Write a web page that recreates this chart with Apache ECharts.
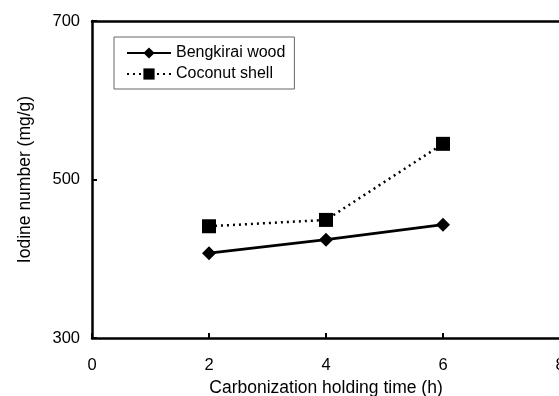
<!DOCTYPE html>
<html>
<head>
<meta charset="utf-8">
<script src="https://cdn.jsdelivr.net/npm/echarts@6/dist/echarts.min.js"></script>
<style>
  html, body { margin: 0; padding: 0; background: #fff; }
  #chart { width: 559px; height: 396px; }
</style>
</head>
<body>
<div id="chart"></div>
<script>
// Holding time (h) and iodine number (mg/g) for the two activated carbons
const holdingTime = [2, 4, 6];
const bengkiraiWood = [407, 424, 443];
const coconutShell = [441, 449, 545];
const xTicks = [0, 2, 4, 6, 8];
const yTicks = [300, 500, 700];

const FONT = 'Liberation Sans, Arial, sans-serif';
const diamond = 'path://M0,-1L1,0L0,1L-1,0Z';

const chart = echarts.init(document.getElementById('chart'), null, { renderer: 'canvas' });

chart.setOption({
  animation: false,
  backgroundColor: '#fff',
  textStyle: { fontFamily: FONT },
  grid: { left: 92, top: 21, width: 468, height: 317, containLabel: false, outerBoundsMode: 'none' },
  legend: {
    left: 114, top: 37,
    orient: 'vertical',
    itemGap: 5,
    itemWidth: 44, itemHeight: 14,
    padding: [8, 9, 7, 12],
    borderColor: '#666', borderWidth: 1,
    textStyle: { fontFamily: FONT, fontSize: 16, color: '#000' },
    data: ['Bengkirai wood', 'Coconut shell']
  },
  xAxis: [{
    type: 'value', min: xTicks[0], max: xTicks[xTicks.length - 1], interval: 2,
    name: 'Carbonization holding time (h)', nameLocation: 'middle', nameGap: 41,
    nameTextStyle: { fontFamily: FONT, fontSize: 17.5, color: '#000' },
    axisLine: { lineStyle: { color: '#000', width: 2.5 } },
    axisTick: { inside: true, length: 5, lineStyle: { color: '#000', width: 2 } },
    axisLabel: { fontFamily: FONT, fontSize: 16.5, color: '#000', margin: 19 },
    splitLine: { show: false }
  }, {
    type: 'value', position: 'top', min: 0, max: 8,
    axisLine: { show: true, lineStyle: { color: '#000', width: 2.5 } },
    axisTick: { show: false }, axisLabel: { show: false }, splitLine: { show: false }
  }],
  yAxis: [{
    type: 'value', min: yTicks[0], max: yTicks[yTicks.length - 1], interval: 200,
    name: 'Iodine number (mg/g)', nameLocation: 'middle', nameGap: 58,
    nameTextStyle: { fontFamily: FONT, fontSize: 17.5, color: '#000' },
    axisLine: { show: true, lineStyle: { color: '#000', width: 2.5 } },
    axisTick: { show: true, inside: true, length: 5, lineStyle: { color: '#000', width: 2 } },
    axisLabel: { fontFamily: FONT, fontSize: 16.5, color: '#000', margin: 12 },
    splitLine: { show: false }
  }, {
    type: 'value', position: 'right', min: 300, max: 700,
    axisLine: { show: true, onZero: false, lineStyle: { color: '#ccc', width: 1 } },
    axisTick: { show: false }, axisLabel: { show: false }, splitLine: { show: false }
  }],
  series: [{
    name: 'Bengkirai wood',
    type: 'line',
    data: holdingTime.map((t, i) => [t, bengkiraiWood[i]]),
    symbol: diamond, symbolSize: 14,
    itemStyle: { color: '#000' },
    lineStyle: { color: '#000', width: 2.8, type: 'solid' }
  }, {
    name: 'Coconut shell',
    type: 'line',
    data: holdingTime.map((t, i) => [t, coconutShell[i]]),
    symbol: 'rect', symbolSize: 14,
    itemStyle: { color: '#000' },
    lineStyle: { color: '#000', width: 2.5, type: [2, 4] }
  }]
});
</script>
</body>
</html>
